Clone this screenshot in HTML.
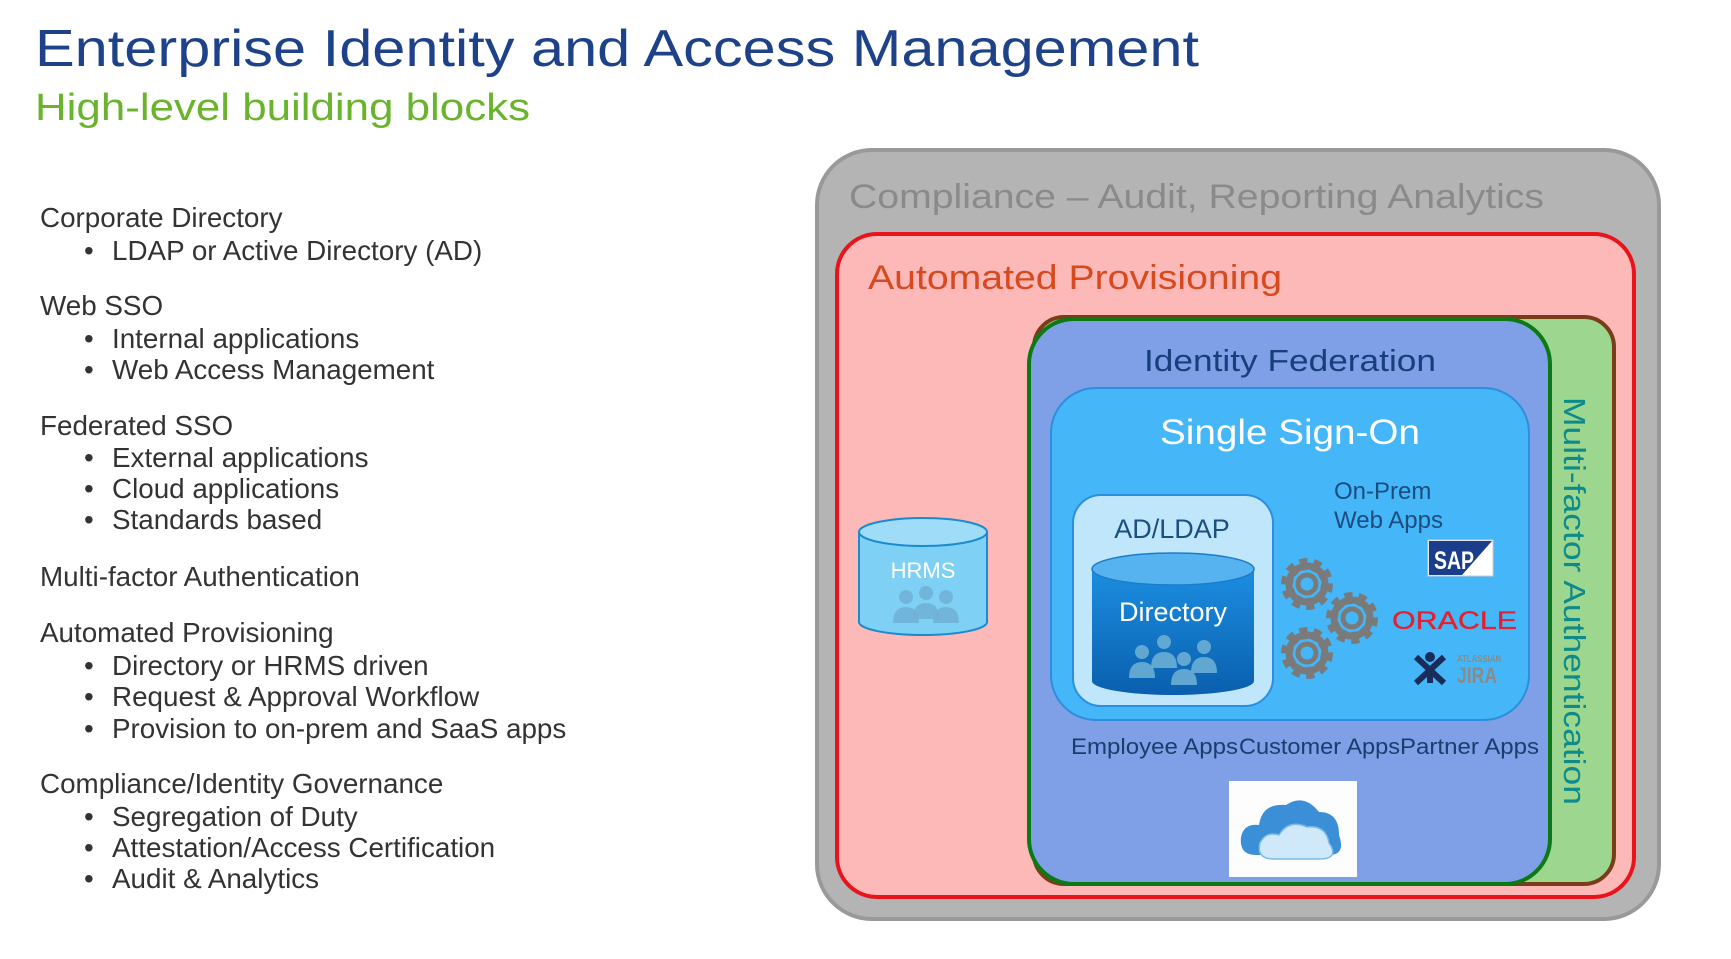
<!DOCTYPE html>
<html><head><meta charset="utf-8"><style>
html,body{margin:0;padding:0;background:#fff;}
svg{display:block;font-family:"Liberation Sans",sans-serif;}
</style></head><body>
<svg width="1731" height="959" viewBox="0 0 1731 959" xmlns="http://www.w3.org/2000/svg">
<defs>
<g id="gear">
<circle r="20" fill="none" stroke="#7a7a7a" stroke-width="12" stroke-dasharray="7 5.5"/>
<circle r="18" fill="none" stroke="#7a7a7a" stroke-width="7"/>
<circle r="9" fill="none" stroke="#7a7a7a" stroke-width="5"/>
</g>
<linearGradient id="dir" x1="0" y1="0" x2="0" y2="1"><stop offset="0" stop-color="#1c8ee0"/><stop offset="1" stop-color="#0a5fae"/></linearGradient>
<g id="ppl" fill="#6fb2d6" opacity="0.85">
<circle cx="0" cy="0" r="7"/><path d="M-13,26 Q-13,10 0,10 Q13,10 13,26Z"/>
</g>
</defs>
<!-- Title -->
<text x="35" y="66" font-size="52" fill="#1d428a" textLength="1164" lengthAdjust="spacingAndGlyphs">Enterprise Identity and Access Management</text>
<text x="35" y="120" font-size="38" fill="#6ab42d" textLength="495" lengthAdjust="spacingAndGlyphs">High-level building blocks</text>
<!-- List -->
<g font-size="27.8" fill="#333">
<text x="40" y="227">Corporate Directory</text>
<text x="84" y="260">•</text><text x="112" y="260">LDAP or Active Directory (AD)</text>
<text x="40" y="315">Web SSO</text>
<text x="84" y="348">•</text><text x="112" y="348">Internal applications</text>
<text x="84" y="379">•</text><text x="112" y="379">Web Access Management</text>
<text x="40" y="435">Federated SSO</text>
<text x="84" y="467">•</text><text x="112" y="467">External applications</text>
<text x="84" y="498">•</text><text x="112" y="498">Cloud applications</text>
<text x="84" y="529">•</text><text x="112" y="529">Standards based</text>
<text x="40" y="586">Multi-factor Authentication</text>
<text x="40" y="642">Automated Provisioning</text>
<text x="84" y="675">•</text><text x="112" y="675">Directory or HRMS driven</text>
<text x="84" y="706">•</text><text x="112" y="706">Request &amp; Approval Workflow</text>
<text x="84" y="738">•</text><text x="112" y="738">Provision to on-prem and SaaS apps</text>
<text x="40" y="793">Compliance/Identity Governance</text>
<text x="84" y="826">•</text><text x="112" y="826">Segregation of Duty</text>
<text x="84" y="857">•</text><text x="112" y="857">Attestation/Access Certification</text>
<text x="84" y="888">•</text><text x="112" y="888">Audit &amp; Analytics</text>
</g>
<g transform="translate(-6,-3)">
<!-- Gray compliance -->
<rect x="823" y="153" width="842" height="769" rx="55" fill="#b4b4b4" stroke="#999" stroke-width="4"/>
<text x="855" y="211" font-size="34" fill="#8a8a8a" textLength="695" lengthAdjust="spacingAndGlyphs">Compliance – Audit, Reporting Analytics</text>
<!-- Red -->
<rect x="843" y="237" width="797" height="663" rx="40" fill="#fdb8b8" stroke="#e8141c" stroke-width="4"/>
<text x="874" y="292" font-size="34" fill="#d54a1e" textLength="414" lengthAdjust="spacingAndGlyphs">Automated Provisioning</text>
<!-- MFA green -->
<rect x="1040" y="320" width="580" height="567" rx="30" fill="#9dd68f" stroke="#7a3d1a" stroke-width="4"/>
<text transform="translate(1570,400) rotate(90)" font-size="31" fill="#0e8a8a" textLength="408" lengthAdjust="spacingAndGlyphs">Multi-factor Authentication</text>
<!-- Identity Federation -->
<rect x="1035" y="322" width="521" height="565" rx="45" fill="#7f9fe6" stroke="#0c7a14" stroke-width="4"/>
<text x="1296" y="374" font-size="31" fill="#17407a" text-anchor="middle" textLength="292" lengthAdjust="spacingAndGlyphs">Identity Federation</text>
<!-- SSO -->
<rect x="1057" y="391" width="478" height="332" rx="45" fill="#45b6f7" stroke="#2b8ede" stroke-width="2"/>
<text x="1296" y="447" font-size="35" fill="#fff" text-anchor="middle" textLength="260" lengthAdjust="spacingAndGlyphs">Single Sign-On</text>
<text x="1340" y="502" font-size="24" fill="#1a4d80">On-Prem</text>
<text x="1340" y="531" font-size="24" fill="#1a4d80">Web Apps</text>
<!-- AD/LDAP -->
<rect x="1079" y="498" width="200" height="211" rx="28" fill="#bfe6fb" stroke="#2b8ede" stroke-width="2"/>
<text x="1178" y="541" font-size="27" fill="#1b4f80" text-anchor="middle">AD/LDAP</text>
<path d="M1098,572 L1098,684 A81,14 0 0 0 1260,684 L1260,572Z" fill="url(#dir)"/>
<ellipse cx="1179" cy="572" rx="81" ry="16" fill="#56b3ef" stroke="#1c7cc8" stroke-width="1.5"/>
<text x="1179" y="624" font-size="27" fill="#fff" text-anchor="middle">Directory</text>
<use href="#ppl" x="1148" y="655"/><use href="#ppl" x="1170" y="645"/><use href="#ppl" x="1190" y="662"/><use href="#ppl" x="1210" y="650"/>
<!-- gears -->
<use href="#gear" x="1313" y="587"/><use href="#gear" x="1358" y="621"/><use href="#gear" x="1313" y="656"/>
<!-- SAP -->
<rect x="1434" y="543" width="65" height="36" fill="#fff" stroke="#ccc" stroke-width="1"/>
<path d="M1435,544 L1498,544 L1468,578 L1435,578Z" fill="#1a3d8c"/>
<text x="1440" y="572" font-size="25" font-weight="bold" fill="#fff" textLength="40" lengthAdjust="spacingAndGlyphs">SAP</text>
<!-- Oracle -->
<text x="1398" y="632" font-size="25" fill="#e5202e" textLength="125" lengthAdjust="spacingAndGlyphs" stroke="#e5202e" stroke-width="0.3">ORACLE</text>
<!-- JIRA -->
<path d="M1422,660 L1450,686 M1450,660 L1422,686 M1436,672 L1436,686" stroke="#1a2c5a" stroke-width="6"/>
<circle cx="1436" cy="660" r="5" fill="#1a2c5a"/>
<text x="1463" y="665" font-size="10" font-weight="bold" fill="#8a8a8a" textLength="44" lengthAdjust="spacingAndGlyphs">ATLASSIAN</text>
<text x="1463" y="686" font-size="22" font-weight="bold" fill="#8a8a8a" textLength="40" lengthAdjust="spacingAndGlyphs">JIRA</text>
<!-- app labels -->
<text x="1077" y="757" font-size="22" fill="#1a3d6e" textLength="167" lengthAdjust="spacingAndGlyphs">Employee Apps</text>
<text x="1245" y="757" font-size="22" fill="#1a3d6e" textLength="161" lengthAdjust="spacingAndGlyphs">Customer Apps</text>
<text x="1406" y="757" font-size="22" fill="#1a3d6e" textLength="139" lengthAdjust="spacingAndGlyphs">Partner Apps</text>
<!-- cloud -->
<rect x="1235" y="784" width="128" height="96" fill="#fdfdfd"/>
<path d="M1262,858 Q1245,858 1247,840 Q1250,826 1265,828 Q1268,806 1292,808 Q1310,796 1325,815 Q1345,815 1345,838 Q1352,858 1335,858Z" fill="#3a8fd6"/>
<path d="M1280,862 Q1262,862 1266,846 Q1272,834 1285,838 Q1295,822 1313,830 Q1332,828 1335,846 Q1346,862 1325,862Z" fill="#cfe9fb" stroke="#7cbbe8" stroke-width="1.5"/>
<!-- HRMS -->
<path d="M865,535 L865,625 A64,13 0 0 0 993,625 L993,535Z" fill="#7fd0f5" stroke="#1a8bd0" stroke-width="2"/>
<ellipse cx="929" cy="535" rx="64" ry="14" fill="#9fdcf7" stroke="#1a8bd0" stroke-width="2"/>
<text x="929" y="581" font-size="22" fill="#fff" text-anchor="middle">HRMS</text>
<use href="#ppl" x="912" y="600"/><use href="#ppl" x="932" y="596"/><use href="#ppl" x="952" y="600"/>
</g>
</svg>
</body></html>
